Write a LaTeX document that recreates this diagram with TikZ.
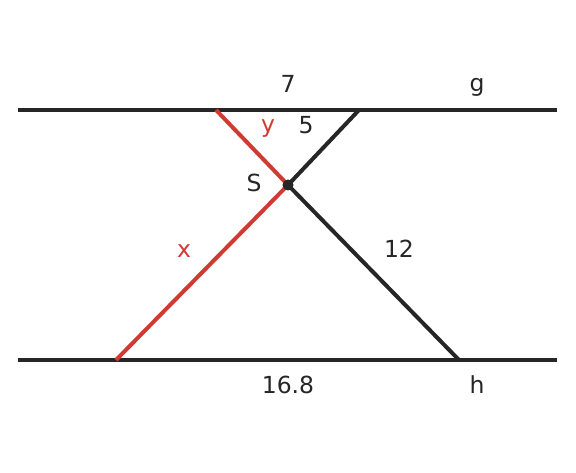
\documentclass[tikz,border=0pt]{standalone}
\usepackage{fontspec}
\setmainfont{DejaVu Sans}
\definecolor{ink}{HTML}{262626}
\definecolor{redl}{HTML}{D03A33}
\begin{document}
\begin{tikzpicture}[x=1pt,y=-1pt,
  lbl/.style={font=\fontsize{23.5}{28}\selectfont, text=ink, inner sep=1pt},
  ln/.style={line width=4pt, ink},
  rl/.style={line width=4pt, redl}]
\useasboundingbox (0,0) rectangle (576,473);
\coordinate (g1) at (18,110);
\coordinate (g2) at (557,110);
\coordinate (h1) at (18,360);
\coordinate (h2) at (557,360);
\coordinate (S) at (288,185);
\coordinate (A) at (216,110);
\coordinate (B) at (359,110);
\coordinate (C) at (116,360);
\coordinate (D) at (459,360);
\draw[ln] (g1) -- (g2);
\draw[ln] (h1) -- (h2);
\draw[rl] (A) -- (S) -- (C);
\draw[ln] (B) -- (S) -- (D);
\fill[ink] (S) circle (5.5);
\node[lbl] (l7) at (288,84) {7};
\node[lbl] (lg) at (477,87) {g};
\node[lbl, text=redl] (ly) at (268,129) {y};
\node[lbl, fill=white, inner sep=0.5pt] (l5) at (306,125) {5};
\node[lbl] (lS) at (254,183) {S};
\node[lbl, text=redl] (lx) at (184,251) {x};
\node[lbl] (l12) at (399,249) {12};
\node[lbl] (l168) at (288,385) {16.8};
\node[lbl] (lh) at (477,385) {h};
\end{tikzpicture}
\end{document}
